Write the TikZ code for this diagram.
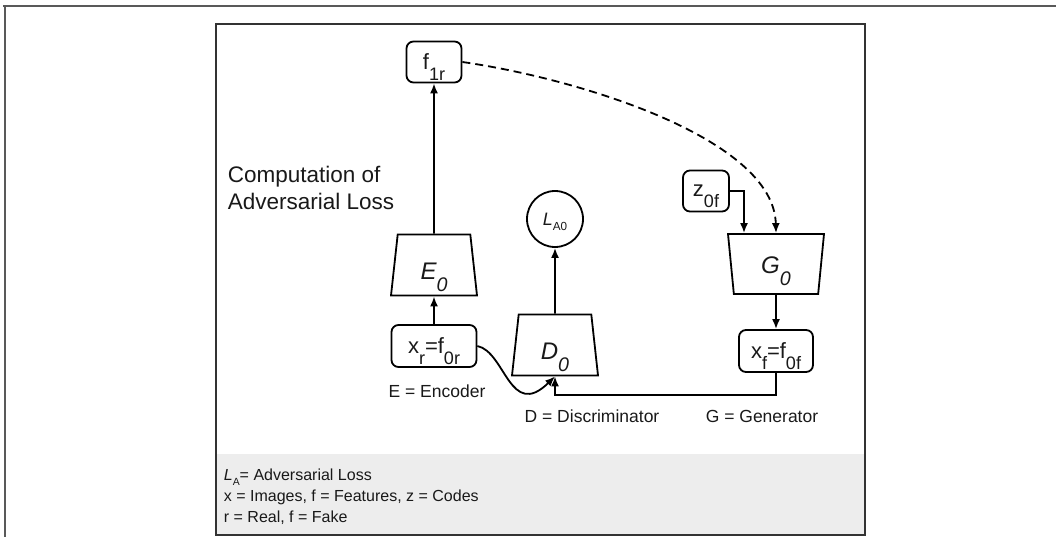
\documentclass[tikz,border=0pt]{standalone}
\usepackage{fontspec}
\setmainfont{Liberation Sans}
\usetikzlibrary{arrows.meta,positioning,shapes.geometric}

\newcommand{\lo}[2][0.82]{\raisebox{-0.5em}[0pt][0pt]{\scalebox{#1}{#2}}}
\newcommand{\sm}[1]{\raisebox{-0.32em}[0pt][0pt]{\scalebox{0.65}{#1}}}

\begin{document}
\begin{tikzpicture}[x=1pt, y=-1pt, line width=1.8pt,
  every node/.style={inner sep=0pt, text=black!90},
  box/.style={draw, rounded corners=7pt, minimum height=41pt, font=\fontsize{22}{24}\selectfont},
  trap/.style={draw, trapezium, trapezium stretches body=true, minimum width=86pt,
    minimum height=61pt, trapezium angle=77, text depth=0pt, text height=29pt,
    font=\fontsize{24}{26}\selectfont\itshape},
  lbl/.style={font=\fontsize{17.5}{21}\selectfont},
  arr/.style={-{Latex[length=10pt,width=8pt]}}]
\useasboundingbox (0,0) rectangle (1056,537);

% frame
\draw[line width=2.5pt, black!65] (3,6) -- (1056,6) (5,6) -- (5,537);
\fill[black!7] (216,454) rectangle (865,535);
\draw[line width=2pt, black!80] (216,24) rectangle (865,535);

% encoder
\node[box, minimum width=55pt] (f1r) at (434,62) {f\lo{1r}};
\node[trap] (E0) at (434,265) {E\lo{0}};
\node[box, minimum width=85pt, minimum height=42pt] (xr) at (434,346) {x\lo{r}=f\lo{0r}};
\node[lbl, anchor=base] at (437,397) {E = Encoder};
\node[anchor=north west, align=left, font=\fontsize{22.5}{27}\selectfont] at (227,165) {Computation of\\Adversarial Loss};

% discriminator
\node[draw, circle, minimum size=56pt, font=\fontsize{18}{20}\selectfont] (LA0) at (555,219) {\textit{L}\sm{A0}};
\node[trap] (D0) at (555,345) {D\lo{0}};
\node[lbl, anchor=base] at (592,422) {D = Discriminator};

% generator
\node[box, minimum width=46pt] (z0f) at (706,191) {z\lo{0f}};
\node[trap, shape border rotate=180, minimum width=96pt, minimum height=60pt,
  trapezium angle=72, text height=18pt] (G0) at (776,264) {G\lo{0}};
\node[box, minimum width=74pt, minimum height=42pt] (xf) at (776,351) {x\lo{f}=f\lo{0f}};
\node[lbl, anchor=base] at (762,422) {G = Generator};

% legend
\node[anchor=north west, align=left, font=\fontsize{16}{21}\selectfont] at (223,468)
  {\textit{L}\sm{A}= Adversarial Loss\\x = Images, f = Features, z = Codes\\r = Real, f = Fake};

\draw[arr] (xr) -- (E0);
\draw[arr] (E0) -- (f1r);
\draw[arr] (D0) -- (LA0);
\draw[arr] (z0f.east) -| ([xshift=-32pt]G0.north);
\draw[arr, dash pattern=on 8pt off 5pt] (f1r.east) .. controls +(118,17) and +(-2,-94) .. (G0.north);
\draw[arr] (G0) -- (xf);
\draw[arr] (xf.south) -- ++(0,22) -| (D0.south);
\draw[arr] (xr.east) .. controls +(28,6) and +(-45,44) .. (D0.south);
\end{tikzpicture}
\end{document}
